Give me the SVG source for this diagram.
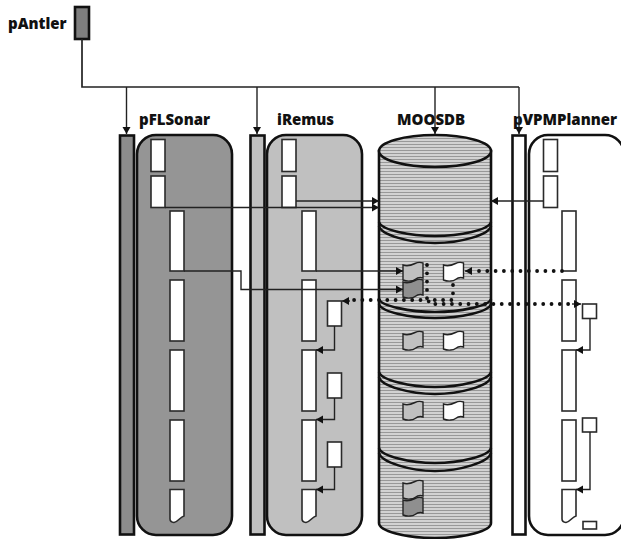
<svg xmlns="http://www.w3.org/2000/svg" width="621" height="539" viewBox="0 0 621 539">
<style>
text{font-family:"Open Sans","Liberation Sans",sans-serif;font-weight:800;font-size:15px;fill:#111}
.bar{stroke:#111;stroke-width:2.6}
.proc{stroke:#111;stroke-width:2.6}
.b{fill:#fff;stroke:#2a2a2a;stroke-width:1.6}
.cyl{stroke:#111;stroke-width:2.6;fill:url(#hatch)}
.arc{fill:none;stroke:#111;stroke-width:2.6}
.fl{stroke:#222;stroke-width:1.4}
.l{fill:none;stroke:#222;stroke-width:1.4}
.a{marker-end:url(#arr)}
.d{fill:none;stroke:#111;stroke-width:3.8;stroke-linecap:round;stroke-dasharray:0 8.3}
</style>
<defs>
<pattern id="hatch" width="4" height="3" patternUnits="userSpaceOnUse"><rect width="4" height="3" fill="#d2d2d2"/><rect width="4" height="1" fill="#989898"/></pattern>
<marker id="arr" markerUnits="userSpaceOnUse" markerWidth="8" markerHeight="9" refX="7" refY="4.500" orient="auto"><path d="M0 0.500L7 4.500L0 8.500z" fill="#111"/></marker>
<path id="flag" d="M0 3C5 5 9 3 12 1.500S17 0 20 1V16C17 15 14 16 12 17.500S5 20 0 18z"/>
</defs>
<g id="pAntler"><rect x="75" y="7" width="14" height="32" fill="#7f7f7f" stroke="#111" stroke-width="2.600"/><text x="8" y="29">pAntler</text></g>
<g id="pFLSonar">
<rect class="bar" x="120" y="135.500" width="14" height="399" fill="#8c8c8c"/>
<rect class="proc" x="137" y="135" width="95" height="400" rx="19" fill="#959595"/>
<text x="139" y="125">pFLSonar</text>
<rect class="b" x="151" y="139.500" width="14" height="32"/><rect class="b" x="151" y="176" width="14" height="31.500"/>
<rect class="b" x="170" y="211" width="14" height="60"/><rect class="b" x="170" y="280" width="14" height="61"/><rect class="b" x="170" y="350" width="14" height="61"/><rect class="b" x="170" y="420" width="14" height="61"/>
<path class="b" d="M170 489.500H184V516C180 517 178 522 174 522.500Q170 522 170 519z"/>
</g>
<g id="iRemus">
<rect class="bar" x="250.500" y="135.500" width="14" height="399" fill="#c0c0c0"/>
<rect class="proc" x="267" y="135" width="95" height="400" rx="19" fill="#c0c0c0"/>
<text x="277" y="125">iRemus</text>
<rect class="b" x="282" y="139.500" width="14" height="32"/><rect class="b" x="282" y="176" width="14" height="31.500"/>
<rect class="b" x="302" y="211" width="14" height="60"/><rect class="b" x="302" y="280" width="14" height="61"/><rect class="b" x="302" y="350" width="14" height="61"/><rect class="b" x="302" y="420" width="14" height="61"/>
<path class="b" d="M302 489.500H316V516C312 517 310 522 306 522.500Q302 522 302 519z"/>
<rect class="b" x="327.500" y="301" width="14" height="25"/><rect class="b" x="327.500" y="373" width="14" height="25"/><rect class="b" x="327.500" y="442" width="14" height="25"/>
</g>
<g id="MOOSDB">
<text x="397" y="125">MOOSDB</text>
<path class="cyl" d="M379 151V523C379 531 405 538 435 538S491 531 491 523V151z"/>
<ellipse class="cyl" cx="435" cy="151" rx="56" ry="16"/>
<path class="arc" d="M379 222C381 230 410 236 435 236S489 230 491 222M379 226C381 235 410 243 435 243S489 235 491 226"/>
<path class="arc" d="M379 299C381 306 410 312 435 312S489 306 491 299M379 304C381 312 410 318 435 318S489 312 491 304"/>
<path class="arc" d="M379 372C381 380 410 387 435 387S489 380 491 372M379 377C381 386 410 394 435 394S489 386 491 377"/>
<path class="arc" d="M379 448C381 456 410 463 435 463S489 456 491 448M379 453C381 462 410 471 435 471S489 462 491 453"/>
<use href="#flag" class="fl" x="403" y="262" fill="#c0c0c0"/><use href="#flag" class="fl" x="403" y="279" fill="#8f8f8f"/><use href="#flag" class="fl" x="443.500" y="262" fill="#fff"/>
<use href="#flag" class="fl" x="403" y="331" fill="#c0c0c0"/><use href="#flag" class="fl" x="443.500" y="331" fill="#fff"/>
<use href="#flag" class="fl" x="403" y="401" fill="#c0c0c0"/><use href="#flag" class="fl" x="443.500" y="401" fill="#fff"/>
<use href="#flag" class="fl" x="403" y="480" fill="#c0c0c0"/><use href="#flag" class="fl" x="403" y="497" fill="#8f8f8f"/>
</g>
<g id="pVPMPlanner">
<rect class="bar" x="512.500" y="135.500" width="13" height="399" fill="#fff"/>
<rect class="proc" x="529" y="135" width="95" height="400" rx="19" fill="#fff"/>
<text x="513" y="125">pVPMPlanner</text>
<rect class="b" x="543.500" y="139.500" width="14" height="32"/><rect class="b" x="543.500" y="176" width="14" height="31.500"/>
<rect class="b" x="562" y="211" width="14" height="60"/><rect class="b" x="562" y="280" width="14" height="61"/><rect class="b" x="562" y="350" width="14" height="61"/><rect class="b" x="562" y="420" width="14" height="61"/>
<path class="b" d="M562 489.500H576V516C572 517 570 522 566 522.500Q562 522 562 519z"/>
<rect class="b" x="582.500" y="304" width="14" height="14.500"/><rect class="b" x="582.500" y="418" width="14" height="14"/><rect class="b" x="583" y="521.500" width="13.500" height="7.500"/>
</g>
<g id="connectors">
<path class="l" style="stroke-width:1.700" d="M82 39V87H519"/>
<path class="l a" d="M126.500 87V134"/><path class="l a" d="M257 87V134"/><path class="l a" d="M435 87V134"/><path class="l a" d="M519 87V134"/>
<path class="l a" d="M165 207.500H379"/><path class="l a" d="M296 201H379"/><path class="l a" d="M543.500 201H491"/>
<path class="l a" d="M184 271H241V289.500H403"/><path class="l a" d="M316 271H403"/>
<path class="l a" d="M334.500 326V350H316"/><path class="l a" d="M334.500 398V419.500H316"/><path class="l a" d="M334.500 467V489.500H316"/>
<path class="l a" d="M590 318.500V350H576"/><path class="l a" d="M590 432V489.500H576"/>
<path class="d" d="M562 271H472"/><path class="l a" d="M472 271H465"/>
<path class="d" d="M427 265V300H352"/><path class="l a" d="M350 301H342"/>
<path class="d" d="M453 285V300H428L430 304H572"/><path class="l a" d="M572 304H581"/>
</g>
</svg>
